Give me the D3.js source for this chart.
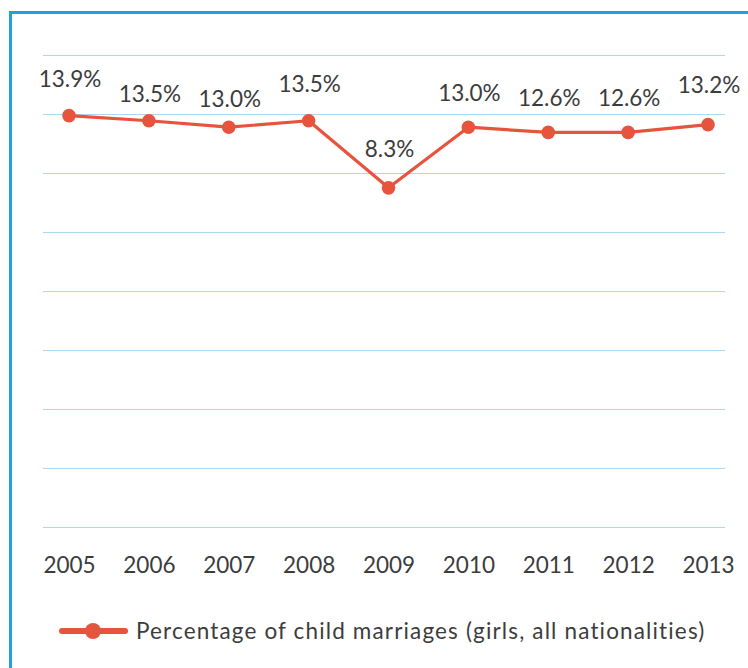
<!DOCTYPE html>
<html><head><meta charset="utf-8">
<script src="https://cdn.jsdelivr.net/npm/d3@7/dist/d3.min.js"></script>
<style>
html,body{margin:0;padding:0;background:#fff;}
svg{display:block;}
text{font-family:Lato,"Open Sans",sans-serif;fill:#3c3c3c;}
</style></head>
<body>
<svg id="chart" width="748" height="668"></svg>
<script>
const years = ["2005","2006","2007","2008","2009","2010","2011","2012","2013"];
const values = [13.9, 13.5, 13.0, 13.5, 8.3, 13.0, 12.6, 12.6, 13.2];
const valueLabels = ["13.9%","13.5%","13.0%","13.5%","8.3%","13.0%","12.6%","12.6%","13.2%"];
const seriesName = "Percentage of child marriages (girls, all nationalities)";
const labelDy = [29, 19, 20, 29, 31, 26, 26, 26, 32];

const svg = d3.select("#chart");
const W = 748, H = 668;
const red = "#e8533d", grid = "#a9d9ec", border = "#1ea2dc";

// frame (top + left)
svg.append("line").attr("x1", 10.5).attr("x2", W).attr("y1", 12.5).attr("y2", 12.5)
  .attr("stroke", border).attr("stroke-width", 3);
svg.append("line").attr("x1", 10.5).attr("x2", 10.5).attr("y1", 11).attr("y2", H)
  .attr("stroke", border).attr("stroke-width", 3);

const x = d3.scalePoint().domain(years).range([69, 708]);
const y = d3.scaleLinear().domain([-18, 18.6]).range([527, 55]);
const gridScale = d3.scaleLinear().domain([0, 8]).range([527, 55]);

svg.append("g").selectAll("line").data(d3.range(9)).join("line")
  .attr("x1", 43).attr("x2", 725)
  .attr("y1", d => Math.round(gridScale(d)) + 0.5).attr("y2", d => Math.round(gridScale(d)) + 0.5)
  .attr("stroke", grid).attr("stroke-width", 1.2);

// x axis labels
const xAxis = d3.axisBottom(x).tickSize(0).tickPadding(0);
const gx = svg.append("g").attr("transform", "translate(0,557)").call(xAxis);
gx.select(".domain").remove();
gx.selectAll("text").attr("font-size", 22.5).attr("font-family", "Lato").attr("fill", "#3c3c3c")
  .attr("dy", "0.71em");

const data = years.map((yr, i) => ({yr, v: values[i], label: valueLabels[i], dy: labelDy[i]}));

svg.append("path").datum(data)
  .attr("fill", "none").attr("stroke", red).attr("stroke-width", 3.2).attr("stroke-linejoin", "round")
  .attr("d", d3.line().x(d => x(d.yr)).y(d => y(d.v)));

svg.append("g").selectAll("circle").data(data).join("circle")
  .attr("cx", d => x(d.yr)).attr("cy", d => y(d.v)).attr("r", 6.8).attr("fill", red);

svg.append("g").selectAll("text").data(data).join("text")
  .attr("x", d => x(d.yr) + 1).attr("y", d => y(d.v) - d.dy)
  .attr("text-anchor", "middle").attr("font-size", 22.5)
  .text(d => d.label);

// legend
const lg = svg.append("g");
lg.append("line").attr("x1", 62).attr("x2", 125).attr("y1", 631).attr("y2", 631)
  .attr("stroke", red).attr("stroke-width", 6).attr("stroke-linecap", "round");
lg.append("circle").attr("cx", 93).attr("cy", 631).attr("r", 8).attr("fill", red);
lg.append("text").attr("x", 136).attr("y", 639).attr("font-size", 22.5)
  .attr("letter-spacing", 1.15).text(seriesName);
</script>
</body></html>
